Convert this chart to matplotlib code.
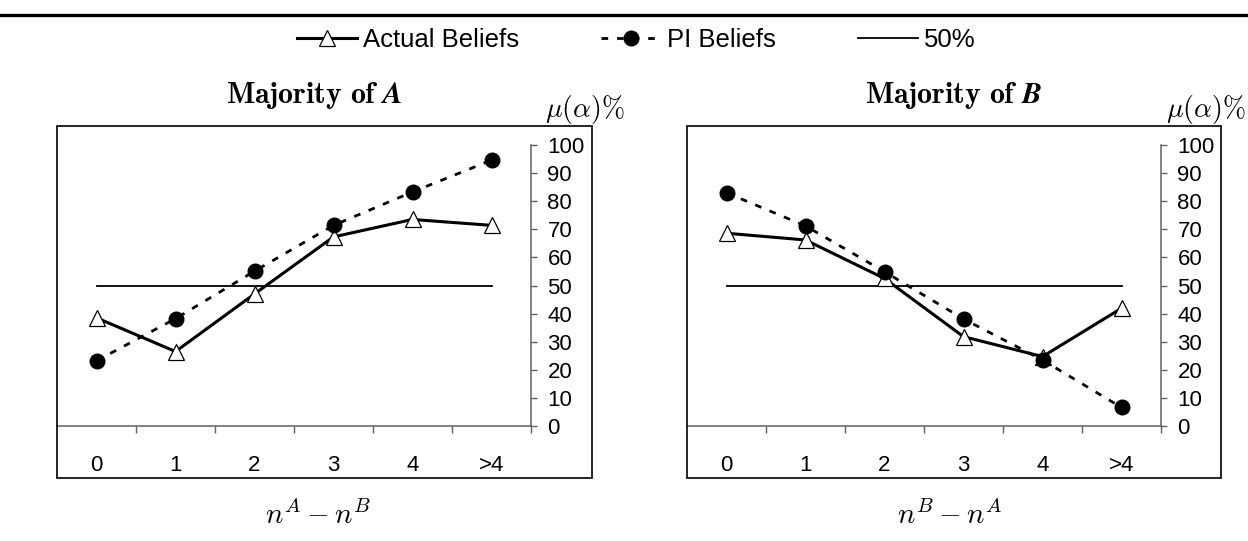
import matplotlib
matplotlib.use('Agg')
import matplotlib.pyplot as plt
from matplotlib.lines import Line2D
from matplotlib.patches import Rectangle

# ---------------- data ----------------
categories = ['0', '1', '2', '3', '4', '>4']
actual_A = [38.5, 26.5, 47.0, 67.3, 73.5, 71.4]
pi_A = [23.2, 38.2, 55.1, 71.4, 83.3, 94.6]
actual_B = [68.6, 66.2, 52.5, 31.8, 24.7, 41.9]
pi_B = [83.0, 71.2, 54.9, 38.1, 23.5, 6.6]
threshold = [50, 50, 50, 50, 50, 50]
yticks = [0, 10, 20, 30, 40, 50, 60, 70, 80, 90, 100]
titles = [r'$\mathbf{Majority\ of}\ \mathbfit{A}$', r'$\mathbf{Majority\ of}\ \mathbfit{B}$']
xlabels = [r'$n^A - n^B$', r'$n^B - n^A$']
legend_labels = ['Actual Beliefs', 'PI Beliefs', '50%']

plt.rcParams['mathtext.fontset'] = 'cm'
W, H = 1248, 541
fig = plt.figure(figsize=(W / 100, H / 100), dpi=100)

def fx(px):
    return px / W

def fy(py):
    return 1 - py / H

sans = ['Liberation Sans', 'DejaVu Sans']
axis_col = '#606060'

panels = [
    dict(x0=57, x1=592, yax=531, tx=314, mux=545, xlx=318),
    dict(x0=687, x1=1221, yax=1161, tx=954, mux=1166, xlx=950),
]
series_actual = [actual_A, actual_B]
series_pi = [pi_A, pi_B]

handles = None
for i, p in enumerate(panels):
    # outer frame (chart area border)
    fig.add_artist(Rectangle((fx(p['x0']), fy(478)), fx(p['x1']) - fx(p['x0']), fy(126) - fy(478),
                             transform=fig.transFigure, fill=False, lw=1.2, ec='black'))
    ax = fig.add_axes([fx(p['x0']), fy(426), fx(p['yax']) - fx(p['x0']), fy(145) - fy(426)])
    ax.set_facecolor('none')
    xs = list(range(len(categories)))
    l50, = ax.plot(xs, threshold, color='black', lw=1.3, zorder=2)
    la, = ax.plot(xs, series_actual[i], color='black', lw=2.2, marker='^', ms=11,
                  mfc='white', mec='black', mew=0.9, zorder=3, clip_on=False)
    lp, = ax.plot(xs, series_pi[i], color='black', lw=2.0, linestyle=(0, (2.4, 3.2)), marker='o',
                  ms=10.5, mfc='black', mec='black', zorder=4, clip_on=False)
    handles = [la, lp, l50]
    ax.set_xlim(-0.5, 5.5)
    ax.set_ylim(0, 100)
    for s in ['top', 'left']:
        ax.spines[s].set_visible(False)
    for s in ['right', 'bottom']:
        ax.spines[s].set_color(axis_col)
        ax.spines[s].set_linewidth(1.1)
    ax.yaxis.tick_right()
    ax.set_yticks(yticks)
    ax.tick_params(axis='y', direction='out', length=4.3, width=1.0, color=axis_col,
                   labelsize=16, pad=7.5)
    ax.set_xticks([x + 0.5 for x in xs])
    ax.set_xticklabels([])
    ax.tick_params(axis='x', which='major', direction='out', length=5, width=1.0, color=axis_col)
    ax.set_xticks(xs, minor=True)
    ax.set_xticklabels(categories, minor=True)
    ax.tick_params(axis='x', which='minor', length=0, labelsize=16, pad=21)
    for lab in ax.get_yticklabels() + ax.get_xticklabels(minor=True):
        lab.set_fontfamily(sans)
    fig.text(fx(p['tx']), fy(103), titles[i], ha='center', va='baseline', fontsize=21.5)
    fig.text(fx(p['mux']), fy(109), r'$\mu(\alpha)\%$', ha='left', va='center', fontsize=20)
    fig.text(fx(p['xlx']), fy(515), xlabels[i], ha='center', va='center', fontsize=21)

# top rule
fig.add_artist(Line2D([0, 1], [fy(15), fy(15)], transform=fig.transFigure, color='black', lw=2.4))

fig.legend(handles=handles, labels=legend_labels, loc='center left',
           bbox_to_anchor=(fx(297), fy(40)), ncol=3, frameon=False,
           handlelength=2.33, handletextpad=0.23, columnspacing=3.2,
           prop={'family': sans, 'size': 18.5}, borderaxespad=0, borderpad=0)

fig.savefig('out.png', dpi=100)
